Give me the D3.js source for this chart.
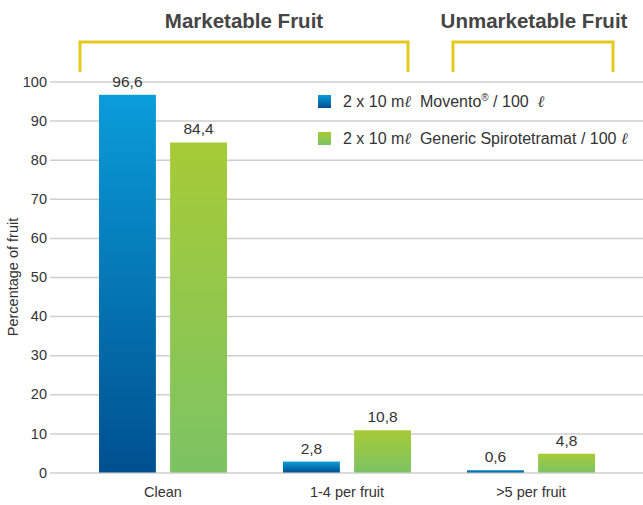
<!DOCTYPE html>
<html>
<head>
<meta charset="utf-8">
<script src="https://cdn.jsdelivr.net/npm/d3@7"></script>
<style>
  body { margin: 0; background: #fff; }
  text { font-family: "Liberation Sans", Arial, sans-serif; }
</style>
</head>
<body>
<svg id="chart" width="643" height="505"></svg>
<script>
// chart data
let categories = ['Clean', '1-4 per fruit', '>5 per fruit'];
let seriesProducts = ['Movento', 'Generic Spirotetramat'];
let seriesMarks = ['\u00AE', ''];
let movento = [96.6, 2.8, 0.6];
let generic = [84.4, 10.8, 4.8];
let yTicks = [0, 10, 20, 30, 40, 50, 60, 70, 80, 90, 100];
let groupTitles = ['Marketable Fruit', 'Unmarketable Fruit'];

let svg = d3.select('#chart');
let margin = {left: 50, right: 0, top: 81.5, bottom: 472.5};

let y = d3.scaleLinear().domain([0, 100]).range([margin.bottom, margin.top]);
let x = d3.scaleBand().domain(categories).range([71, 623]).paddingInner(0).paddingOuter(0);
let sub = d3.scaleBand().domain([0, 1]).range([28, 156]).paddingInner(0.2).paddingOuter(0);

// gradients for the bars
let defs = svg.append('defs');
let grads = [
    {id: 'gBlue', top: '#0a9dda', bottom: '#00508f'},
    {id: 'gGreen', top: '#a7cb36', bottom: '#7cc364'},
];
grads.forEach(function(g) {
    let lg = defs.append('linearGradient').attr('id', g.id)
        .attr('x1', 0).attr('y1', 0).attr('x2', 0).attr('y2', 1);
    lg.append('stop').attr('offset', '0%').attr('stop-color', g.top);
    lg.append('stop').attr('offset', '100%').attr('stop-color', g.bottom);
});

// grid + y axis
let yAxis = d3.axisLeft(y).tickValues(yTicks).tickSize(-(643 - margin.left)).tickPadding(10);
let ga = svg.append('g').attr('transform', 'translate(' + margin.left + ',0)').call(yAxis);
ga.select('.domain').remove();
ga.selectAll('.tick line').attr('stroke', '#cfcfcf').attr('stroke-width', 1.5);
ga.selectAll('.tick text').attr('fill', '#333').attr('font-size', 14.5).attr('dx', 7);

svg.append('text')
    .attr('transform', 'translate(18,277) rotate(-90)')
    .attr('text-anchor', 'middle')
    .attr('fill', '#333').attr('font-size', 14.5)
    .text('Percentage of fruit');

// bars
let rows = categories.map(function(c, i) {
    return [{cat: c, s: 0, v: movento[i]}, {cat: c, s: 1, v: generic[i]}];
});
let groups = svg.append('g').selectAll('g').data(rows).enter().append('g')
    .attr('transform', function(d) { return 'translate(' + x(d[0].cat) + ',0)'; });

groups.selectAll('rect').data(function(d) { return d; }).enter().append('rect')
    .attr('x', function(d) { return sub(d.s); })
    .attr('width', sub.bandwidth())
    .attr('y', function(d) { return y(d.v); })
    .attr('height', function(d) { return y(0) - y(d.v); })
    .attr('fill', function(d) { return 'url(#' + grads[d.s].id + ')'; });

groups.selectAll('text').data(function(d) { return d; }).enter().append('text')
    .attr('x', function(d) { return sub(d.s) + sub.bandwidth() / 2; })
    .attr('y', function(d) { return y(d.v) - 8; })
    .attr('text-anchor', 'middle')
    .attr('fill', '#333').attr('font-size', 15.5)
    .text(function(d) { return String(d.v).replace('.', ','); });

// category labels
svg.append('g').selectAll('text').data(categories).enter().append('text')
    .attr('x', function(d) { return x(d) + x.bandwidth() / 2; })
    .attr('y', 497)
    .attr('text-anchor', 'middle')
    .attr('fill', '#333').attr('font-size', 14.5)
    .text(function(d) { return d; });

// legend
let litre = function(sel) {
    sel.append('tspan').attr('font-family', 'DejaVu Serif').attr('font-style', 'italic')
        .attr('font-size', 16).text('\u2113');
};
let legend = svg.append('g').selectAll('g').data(seriesProducts).enter().append('g')
    .attr('transform', function(d, i) { return 'translate(318,' + (95 + i * 37) + ')'; });
legend.append('rect').attr('width', 13).attr('height', 13)
    .attr('fill', function(d, i) { return 'url(#' + grads[i].id + ')'; });
legend.append('text').attr('x', 25).attr('y', 12)
    .attr('fill', '#333').attr('font-size', 16)
    .each(function(d, i) {
        let t = d3.select(this);
        t.append('tspan').text('2 x 10 m');
        litre(t);
        t.append('tspan').text('\u00A0 ' + d);
        if (seriesMarks[i]) {
            t.append('tspan').attr('font-size', 10).attr('dy', -6).text(seriesMarks[i]);
            t.append('tspan').attr('dy', 6).text(' / 100 \u00A0');
        } else {
            t.append('tspan').text(' / 100 ');
        }
        litre(t);
    });

// group brackets and titles
let brackets = [[80, 408], [453, 613]];
svg.append('g').selectAll('path').data(brackets).enter().append('path')
    .attr('d', function(b) { return 'M' + b[0] + ',72V42H' + b[1] + 'V72'; })
    .attr('fill', 'none').attr('stroke', '#e5c91c').attr('stroke-width', 3);
svg.append('g').selectAll('text').data(groupTitles).enter().append('text')
    .attr('x', function(d, i) { return i === 0 ? 244 : 534; })
    .attr('y', 28)
    .attr('text-anchor', 'middle')
    .attr('fill', '#454545').attr('font-size', 20.5).attr('font-weight', 'bold')
    .text(function(d) { return d; });
</script>
</body>
</html>
